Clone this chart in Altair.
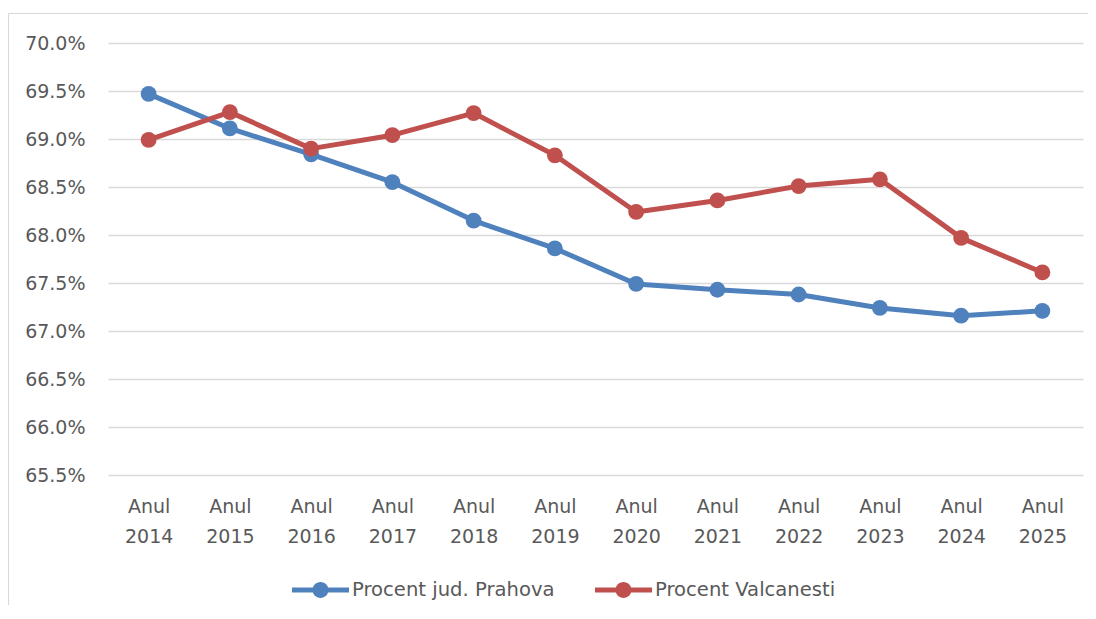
import altair as alt
import pandas as pd

years = ["Anul 2014", "Anul 2015", "Anul 2016", "Anul 2017", "Anul 2018", "Anul 2019",
         "Anul 2020", "Anul 2021", "Anul 2022", "Anul 2023", "Anul 2024", "Anul 2025"]
prahova = [0.6947, 0.6911, 0.6884, 0.6855, 0.6815, 0.6786, 0.6749, 0.6743, 0.6738, 0.6724, 0.6716, 0.6721]
valcanesti = [0.6899, 0.6928, 0.6890, 0.6904, 0.6927, 0.6883, 0.6824, 0.6836, 0.6851, 0.6858, 0.6797, 0.6761]
series_names = ["Procent jud. Prahova", "Procent Valcanesti"]
colors = ["#4F81BD", "#C0504D"]
y_ticks = [0.655, 0.66, 0.665, 0.67, 0.675, 0.68, 0.685, 0.69, 0.695, 0.70]

rows = []
for i, y in enumerate(years):
    rows.append({"year": y, "series": series_names[0], "value": prahova[i]})
    rows.append({"year": y, "series": series_names[1], "value": valcanesti[i]})
df = pd.DataFrame(rows)

FONT = "DejaVu Sans"
TXT = "#595959"
GRID = "#D9D9D9"

# legend symbol: a short thick line with a dot in the middle (unit coords)
legend_symbol = ("M-1,-0.09 L-0.26,-0.09 L-0.26,0.09 L-1,0.09 Z "
                 "M0.26,-0.09 L1,-0.09 L1,0.09 L0.26,0.09 Z "
                 "M-0.28,0 A0.28,0.28 0 1,1 0.28,0 A0.28,0.28 0 1,1 -0.28,0 Z")

x_enc = alt.X("year:N", sort=years,
              scale=alt.Scale(type="point", padding=0.5),
              axis=alt.Axis(title=None, labelAngle=0, grid=False, domain=False, ticks=False,
                            labelExpr="split(datum.label, ' ')", labelPadding=22,
                            labelLineHeight=30, labelFontSize=19, labelColor=TXT, labelFont=FONT))
y_enc = alt.Y("value:Q",
              scale=alt.Scale(domain=[0.655, 0.70], nice=False, zero=False),
              axis=alt.Axis(title=None, format=".1%", values=y_ticks, grid=True, gridColor=GRID,
                            gridWidth=1.5, domain=False, ticks=False, labelPadding=23,
                            labelFontSize=19, labelColor=TXT, labelFont=FONT))

color = alt.Color("series:N", scale=alt.Scale(domain=series_names, range=colors),
                  legend=alt.Legend(title=None, orient="none", direction="horizontal",
                                    legendX=184, legendY=518, symbolType=legend_symbol,
                                    symbolSize=3249, symbolStrokeWidth=0, symbolOpacity=1,
                                    labelFontSize=19.6, labelColor=TXT, labelFont=FONT,
                                    labelLimit=500, labelOffset=3, columnPadding=40, padding=0))

lines = alt.Chart(df).mark_line(strokeWidth=5, strokeCap="round", strokeJoin="round").encode(
    x=x_enc, y=y_enc, color=color,
)

points = alt.Chart(df).mark_circle(size=250, opacity=1).encode(
    x=x_enc, y=y_enc, color=color,
)

frame = alt.Chart(pd.DataFrame({"f": [0]})).mark_rect(fill="transparent", stroke=GRID, strokeWidth=1).encode(
    x=alt.value(-99.5), x2=alt.value(1000), y=alt.value(-29.5), y2=alt.value(600)
)

chart = alt.layer(frame, lines, points).properties(
    width=975, height=432,
    autosize=alt.AutoSizeParams(type="none"),
    padding={"left": 100, "top": 35, "right": 5, "bottom": 130},
    background="white",
).configure_view(stroke=None)

chart.save("out.html", embed_options={"renderer": "svg", "actions": False})
